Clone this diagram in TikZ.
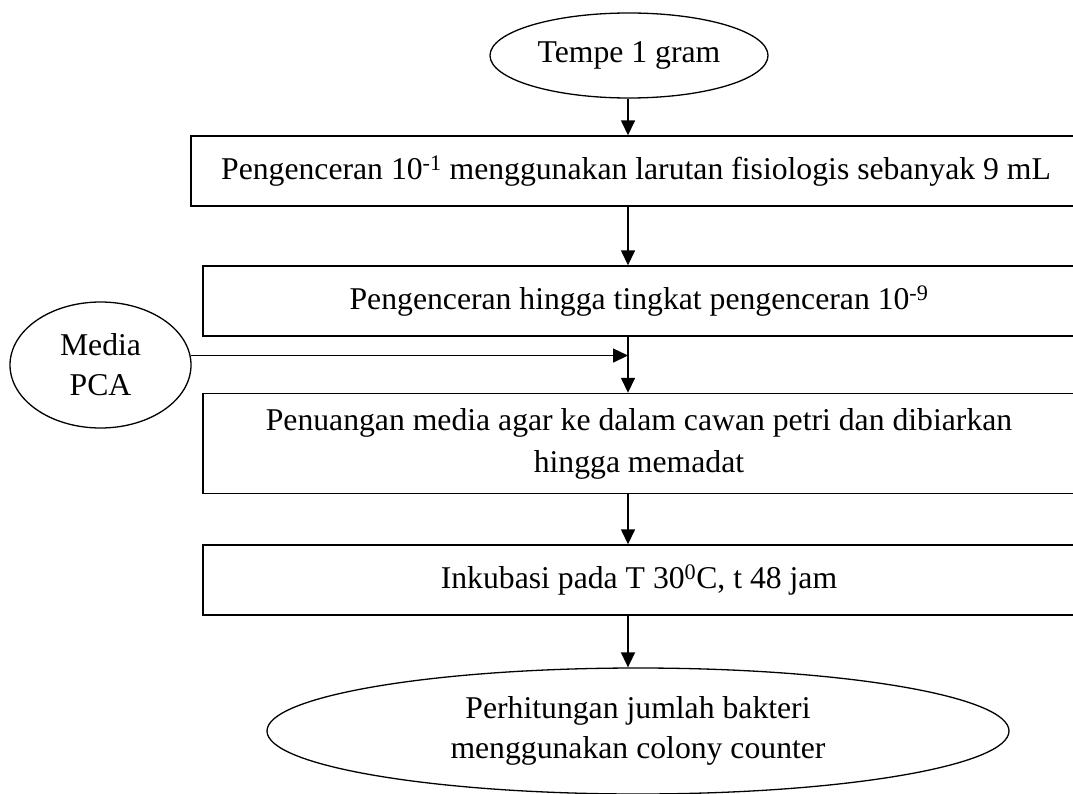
\documentclass[tikz,border=0pt]{standalone}
\usepackage{fontspec}
\setmainfont{Liberation Serif}
\usetikzlibrary{shapes.geometric,arrows.meta}
\tikzset{
  fbox/.style={draw, line width=1.4pt, rectangle, inner sep=0pt, align=center},
  fell/.style={draw, line width=1.3pt, ellipse, inner sep=0pt, align=center},
  arr/.style={line width=1.5pt, -{Triangle[length=15pt,width=14pt]}},
}
\begin{document}
\begin{tikzpicture}[x=1pt,y=-1pt]
\fontsize{31.7}{40}\selectfont
\useasboundingbox (0,0) rectangle (1073,794);
\coordinate (spine) at (628,0);
\node[fell, minimum width=278pt, minimum height=85pt] (top) at (629,55.5) {Tempe 1 gram};
\node[fbox, minimum width=890pt, minimum height=70pt] (b1) at (636,171) {Pengenceran 10\textsuperscript{-1} menggunakan larutan fisiologis sebanyak 9 mL};
\node[fbox, minimum width=872pt, minimum height=70pt] (b2) at (639,301) {Pengenceran hingga tingkat pengenceran 10\textsuperscript{-9}};
\node[fell, minimum width=181pt, minimum height=126pt] (media) at (100.5,365) {Media\\PCA};
\node[fbox, minimum width=872pt, minimum height=100pt] (b3) at (639,443.5) {Penuangan media agar ke dalam cawan petri dan dibiarkan\\[2pt]hingga memadat};
\node[fbox, minimum width=872pt, minimum height=70pt] (b4) at (639,580) {Inkubasi pada T 30\textsuperscript{0}C, t 48 jam};
\node[fell, minimum width=742pt, minimum height=126pt] (bot) at (638,731) {Perhitungan jumlah bakteri\\menggunakan colony counter};
\coordinate (join) at (628,356);
\draw[arr] (spine |- top.south) -- (spine |- b1.north);
\draw[arr] (spine |- b1.south) -- (spine |- b2.north);
\draw[arr] (spine |- b2.south) -- (spine |- b3.north);
\draw[arr] (media.6) -- (media.6 -| join);
\draw[arr] (spine |- b3.south) -- (spine |- b4.north);
\draw[arr] (spine |- b4.south) -- (spine |- bot.north);
\end{tikzpicture}
\end{document}
